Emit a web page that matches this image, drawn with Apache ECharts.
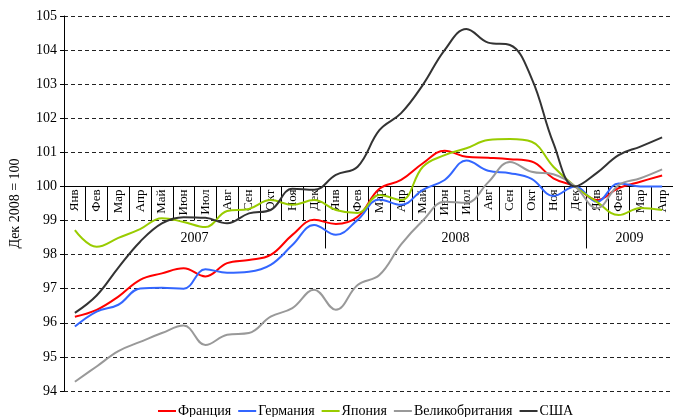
<!DOCTYPE html>
<html>
<head>
<meta charset="utf-8">
<script src="https://cdn.jsdelivr.net/npm/echarts@6/dist/echarts.min.js"></script>
<style>
  html, body { margin: 0; padding: 0; background: #fff; }
  #chart { width: 673px; height: 417px; }
</style>
</head>
<body>
<div id="chart"></div>
<script>
// месяцы и годы
const months = ['Янв', 'Фев', 'Мар', 'Апр', 'Май', 'Июн', 'Июл', 'Авг', 'Сен', 'Окт', 'Ноя', 'Дек'];
const monthLabels = [...months, ...months, ...months.slice(0, 4)];
const years = ['2007', '2008', '2009'];
const yearCenters = [6, 18, 26];
const yearBreaks = [12, 24];

// индексы, дек 2008 = 100
const france = [96.18, 96.38, 96.77, 97.26, 97.45, 97.6, 97.36, 97.75, 97.84, 97.99, 98.58, 99.02,
  98.9, 99.11, 99.93, 100.19, 100.68, 101.05, 100.87, 100.84, 100.8, 100.73, 100.24, 100,
  99.6, 99.95, 100.14, 100.32];
const germany = [95.89, 96.33, 96.53, 97.01, 97.03, 97.0, 97.57, 97.47, 97.5, 97.7, 98.28, 98.87,
  98.58, 99.02, 99.62, 99.46, 99.9, 100.19, 100.76, 100.46, 100.39, 100.22, 99.72, 100,
  99.55, 100.09, 100, 100];
const japan = [98.72, 98.23, 98.49, 98.75, 99.07, 98.96, 98.81, 99.28, 99.34, 99.6, 99.46, 99.6,
  99.31, 99.22, 99.75, 99.6, 100.58, 100.92, 101.12, 101.36, 101.39, 101.31, 100.58, 100,
  99.55, 99.16, 99.37, 99.31];
const uk = [94.27, 94.72, 95.17, 95.44, 95.7, 95.92, 95.35, 95.65, 95.7, 96.18, 96.43, 96.97,
  96.38, 97.11, 97.4, 98.3, 99.0, 99.55, 99.52, 100.12, 100.72, 100.43, 100.36, 100,
  99.36, 100.04, 100.24, 100.5];
const usa = [96.29, 96.8, 97.62, 98.38, 98.92, 99.1, 99.08, 98.92, 99.21, 99.31, 99.93, 99.9,
  100.34, 100.58, 101.65, 102.15, 102.98, 104.0, 104.62, 104.22, 104.15, 103.17, 101.27, 100,
  100.4, 100.92, 101.17, 101.44];

const serif = 'Liberation Serif';
const gridTop = 16, gridBottom = 26, H = 417;
const yMin = 94, yMax = 105, baseLevel = 100;
// ось месяцев проходит по уровню 100
const axisOffset = -(H - gridTop - gridBottom) * (baseLevel - yMin) / (yMax - yMin);

const chart = echarts.init(document.getElementById('chart'));

const mkSeries = (name, data, color) => ({
  name: name,
  type: 'line',
  data: data,
  smooth: 0.4,
  symbol: 'none',
  xAxisIndex: 0,
  lineStyle: {color: color, width: 2},
  itemStyle: {color: color}
});

chart.setOption({
  animation: false,
  backgroundColor: '#fff',
  textStyle: {fontFamily: serif},
  grid: {left: 59, right: 0, top: gridTop, bottom: gridBottom},
  legend: {
    left: 158,
    top: 404,
    padding: 0,
    icon: 'rect',
    itemWidth: 18,
    itemHeight: 2,
    itemGap: 7,
    textStyle: {fontFamily: serif, fontSize: 14, color: '#000', padding: [0, 0, 0, -3]},
    data: ['Франция', 'Германия', 'Япония', 'Великобритания', 'США']
  },
  xAxis: [
    {
      type: 'category',
      data: monthLabels,
      boundaryGap: true,
      position: 'bottom',
      offset: axisOffset,
      axisLine: {lineStyle: {color: '#000', width: 1}},
      axisTick: {show: true, interval: 0, length: 34, lineStyle: {color: '#000'}},
      axisLabel: {rotate: 90, interval: 0, margin: 3, fontFamily: serif, fontSize: 13, color: '#000'},
      splitLine: {show: false},
      z: 1
    },
    {
      type: 'value',
      min: 0,
      max: monthLabels.length,
      position: 'bottom',
      offset: axisOffset,
      axisLine: {show: false},
      axisTick: {show: true, customValues: yearBreaks, length: 62, lineStyle: {color: '#000'}},
      axisLabel: {
        customValues: yearCenters,
        margin: 45,
        fontFamily: serif,
        fontSize: 14,
        color: '#000',
        formatter: v => years[yearCenters.indexOf(v)]
      },
      splitLine: {show: false}
    }
  ],
  yAxis: {
    type: 'value',
    min: yMin,
    max: yMax,
    interval: 1,
    name: 'Дек 2008 = 100',
    nameLocation: 'middle',
    nameGap: 42,
    nameTextStyle: {fontFamily: serif, fontSize: 14, color: '#000'},
    axisLine: {show: true, lineStyle: {color: '#000'}},
    axisTick: {show: true, length: 4, lineStyle: {color: '#000'}},
    axisLabel: {fontFamily: serif, fontSize: 14, color: '#000', margin: 7},
    splitLine: {lineStyle: {color: '#222', type: [4, 3], width: 1}}
  },
  series: [
    mkSeries('Франция', france, '#ff0000'),
    mkSeries('Германия', germany, '#3366ff'),
    mkSeries('Япония', japan, '#99cc00'),
    mkSeries('Великобритания', uk, '#999999'),
    mkSeries('США', usa, '#333333')
  ]
});
</script>
</body>
</html>
